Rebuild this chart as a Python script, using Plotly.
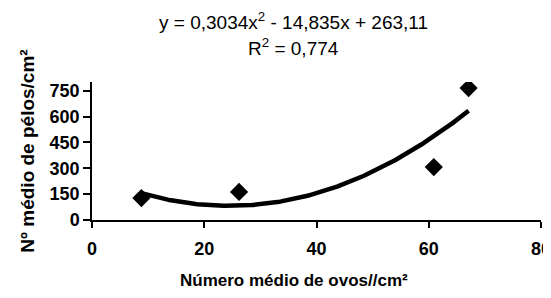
import numpy as np
import plotly.graph_objects as go

# Observed data
ovos = [8.8, 26.2, 60.9, 67.1]
pelos = [127, 163, 307, 765]

# Quadratic trend coefficients (from equation shown)
a, b, c = 0.3034, -14.835, 263.11

x_ticks = [0, 20, 40, 60, 80]
y_ticks = [0, 150, 300, 450, 600, 750]

xf = np.linspace(min(ovos), max(ovos), 200)
yf = a * xf**2 + b * xf + c

FONT = "Liberation Sans, Arial, sans-serif"

# page body has an 8px margin; figure sized to fill the rest of the window
OFF = 8
W, H = 551 - OFF, 298 - OFF
# desired plot-area edges in window pixels
PL, PR, PT, PB = 92, 541, 82, 220
L, R, T, B = PL - OFF, W - (PR - OFF), PT - OFF, H - (PB - OFF)
PW = PR - PL
PH = PB - PT

fig = go.Figure()
fig.add_trace(go.Scatter(x=xf, y=yf, mode="lines",
                         line=dict(color="black", width=4.5), hoverinfo="skip"))
fig.add_trace(go.Scatter(x=ovos, y=pelos, mode="markers",
                         marker=dict(symbol="diamond", size=14, color="black")))

fig.update_layout(
    width=W, height=H,
    margin=dict(l=L, r=R, t=T, b=B),
    paper_bgcolor="white", plot_bgcolor="white",
    showlegend=False,
    font=dict(family=FONT, color="black"),
)
fig.add_annotation(text="y = 0,3034x<sup>2</sup> - 14,835x + 263,11",
                   xref="paper", yref="paper", x=(293 - PL) / PW, y=(PB - 21) / PH,
                   showarrow=False, font=dict(size=19, family=FONT), xanchor="center", yanchor="middle")
fig.add_annotation(text="R<sup>2</sup> = 0,774",
                   xref="paper", yref="paper", x=(293 - PL) / PW, y=(PB - 47) / PH,
                   showarrow=False, font=dict(size=19, family=FONT), xanchor="center", yanchor="middle")
fig.add_annotation(text="<b>Número médio de ovos//cm²</b>",
                   xref="paper", yref="paper", x=(294 - PL) / PW, y=(PB - 280) / PH,
                   showarrow=False, font=dict(size=17, family=FONT), xanchor="center", yanchor="middle")

fig.update_xaxes(range=[0, 80], tickvals=x_ticks, ticktext=[f"<b>{v}</b>" for v in x_ticks],
                 showgrid=False, zeroline=False, showline=True, linecolor="black", linewidth=1.5,
                 ticks="outside", ticklen=6, tickwidth=1.5, tickcolor="black",
                 tickfont=dict(size=18, family=FONT), automargin=False, ticklabeloverflow="allow",
                 ticklabelstandoff=6)
fig.update_yaxes(range=[0, 800], tickvals=y_ticks, ticktext=[f"<b>{v}</b>" for v in y_ticks],
                 showgrid=False, zeroline=False, showline=True, linecolor="black", linewidth=1.5,
                 ticks="outside", ticklen=7, tickwidth=1.5, tickcolor="black",
                 tickfont=dict(size=18, family=FONT), automargin=False, ticklabeloverflow="allow",
                 title=dict(text="<b>Nº médio de pélos/cm²</b>", font=dict(size=19, family=FONT), standoff=10))

fig.write_html("out.html")
